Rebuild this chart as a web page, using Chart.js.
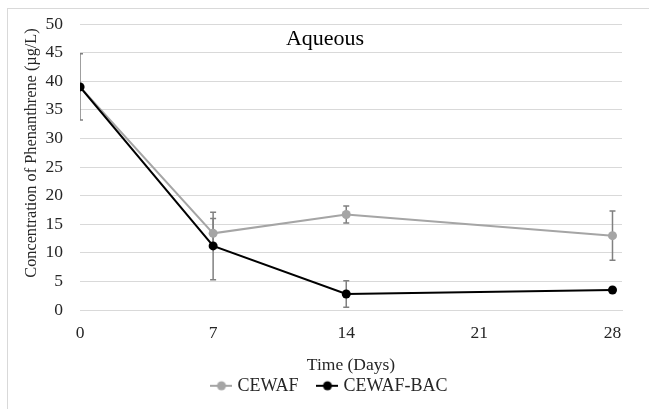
<!DOCTYPE html>
<html>
<head>
<meta charset="utf-8">
<script src="https://cdn.jsdelivr.net/npm/chart.js@4/dist/chart.umd.min.js"></script>
<style>
    html, body { margin: 0; padding: 0; background: #fff; }
    #wrap { position: relative; width: 649px; height: 409px; }
    #frame { position: absolute; left: 7px; top: 8px; right: -10px; bottom: -10px; border-left: 1px solid #d9d9d9; border-top: 1px solid #d9d9d9; }
    canvas { position: absolute; left: 0; top: 0; }
</style>
</head>
<body>
<div id="wrap">
    <div id="frame"></div>
    <canvas id="chart" width="649" height="409"></canvas>
</div>
<script>
// Sampling days and measured concentrations (µg/L)
const days = [0, 7, 14, 28];
const xTicks = [0, 7, 14, 21, 28];
const cewaf = [39.0, 13.4, 16.7, 13.0];
const cewafErr = [5.8, 2.6, 1.5, 4.3];
const cewafBac = [39.0, 11.2, 2.8, 3.5];
const cewafBacErr = [0, 5.9, 2.3, 0];

const FONT = "'Liberation Serif', 'Times New Roman', serif";
const TEXT = '#262626';

// Legend marker: short line with a dot in the middle
function legendMarker(color) {
    const c = document.createElement('canvas');
    c.width = 22;
    c.height = 12;
    const ctx = c.getContext('2d');
    ctx.strokeStyle = color;
    ctx.lineWidth = 2;
    ctx.beginPath();
    ctx.moveTo(0, 6);
    ctx.lineTo(22, 6);
    ctx.stroke();
    ctx.fillStyle = color;
    ctx.beginPath();
    ctx.arc(11, 6, 4.5, 0, Math.PI * 2);
    ctx.fill();
    return c;
}

// Vertical error bars with caps, drawn under the series
const errorBars = {
    id: 'errorBars',
    beforeDatasetsDraw(chart) {
        const { ctx, chartArea, scales: { x, y } } = chart;
        ctx.save();
        ctx.beginPath();
        ctx.rect(chartArea.left, chartArea.top, chartArea.right - chartArea.left, chartArea.bottom - chartArea.top);
        ctx.clip();
        ctx.strokeStyle = '#808080';
        ctx.lineWidth = 1.5;
        chart.data.datasets.forEach(ds => {
            ds.data.forEach((pt, i) => {
                const err = ds.errors[i];
                if (!err) return;
                const px = x.getPixelForValue(pt.x);
                const top = y.getPixelForValue(pt.y + err);
                const bot = y.getPixelForValue(pt.y - err);
                ctx.beginPath();
                ctx.moveTo(px, top);
                ctx.lineTo(px, bot);
                ctx.moveTo(px - 3, top);
                ctx.lineTo(px + 3, top);
                ctx.moveTo(px - 3, bot);
                ctx.lineTo(px + 3, bot);
                ctx.stroke();
            });
        });
        ctx.restore();
    }
};

// Chart title inside the plot area, and the rotated y-axis title
const labels = {
    id: 'labels',
    afterDraw(chart) {
        const { ctx } = chart;
        ctx.save();
        ctx.fillStyle = '#000';
        ctx.textAlign = 'center';
        ctx.textBaseline = 'middle';
        ctx.font = '22px ' + FONT;
        ctx.fillText('Aqueous', 325, 39.5);

        ctx.fillStyle = TEXT;
        ctx.font = '16.3px ' + FONT;
        ctx.translate(32, 153);
        ctx.rotate(-Math.PI / 2);
        ctx.fillText('Concentration of Phenanthrene (µg/L)', 0, 0);
        ctx.restore();
    }
};

const toPoints = (vals) => vals.map((v, i) => ({ x: days[i], y: v }));

new Chart(document.getElementById('chart'), {
    type: 'line',
    data: {
        datasets: [
            {
                label: 'CEWAF',
                data: toPoints(cewaf),
                errors: cewafErr,
                borderColor: '#a5a5a5',
                backgroundColor: '#a5a5a5',
                borderWidth: 2,
                pointRadius: 4.5,
                pointBorderWidth: 0,
                order: 1
            },
            {
                label: 'CEWAF-BAC',
                data: toPoints(cewafBac),
                errors: cewafBacErr,
                borderColor: '#000000',
                backgroundColor: '#000000',
                borderWidth: 2,
                pointRadius: 4.5,
                pointBorderWidth: 0,
                order: 0
            }
        ]
    },
    options: {
        responsive: false,
        animation: false,
        layout: { padding: { left: 20, right: 7, top: 24, bottom: 4.2 } },
        plugins: {
            tooltip: { enabled: false },
            legend: {
                position: 'bottom',
                labels: {
                    font: { family: FONT, size: 18 },
                    color: TEXT,
                    usePointStyle: true,
                    pointStyleWidth: 14,
                    padding: 22,
                    sort: (a, b) => a.datasetIndex - b.datasetIndex,
                    generateLabels(chart) {
                        return chart.data.datasets.map((ds, i) => ({
                            text: ds.label,
                            fillStyle: ds.borderColor,
                            strokeStyle: ds.borderColor,
                            lineWidth: 0,
                            pointStyle: legendMarker(ds.borderColor),
                            fontColor: TEXT,
                            hidden: false,
                            datasetIndex: i
                        }));
                    }
                }
            }
        },
        scales: {
            x: {
                type: 'linear',
                min: 0,
                max: 28.5,
                afterBuildTicks(scale) {
                    scale.ticks = xTicks.map(v => ({ value: v }));
                },
                grid: { display: false, drawTicks: false },
                border: { display: true, color: '#d9d9d9', width: 1 },
                ticks: {
                    font: { family: FONT, size: 17.5 },
                    color: TEXT,
                    padding: 12.5,
                    maxRotation: 0
                },
                title: {
                    display: true,
                    text: 'Time (Days)',
                    font: { family: FONT, size: 17.5 },
                    color: TEXT,
                    padding: { top: 0, bottom: -20.7 }
                },
                afterFit(scale) {
                    scale.height = 44.8;
                }
            },
            y: {
                min: 0,
                max: 50,
                ticks: {
                    stepSize: 5,
                    font: { family: FONT, size: 17.5 },
                    color: TEXT,
                    padding: 17
                },
                grid: { color: '#d9d9d9', drawTicks: false },
                border: { display: false },
                afterFit(scale) {
                    scale.width = 60;
                    // let the layout padding alone decide the plot top
                    scale.paddingTop = 0;
                    scale.paddingBottom = 0;
                }
            },
            // empty spacer on the right so the plot stops short of the frame
            spacer: {
                type: 'linear',
                position: 'right',
                display: true,
                ticks: { display: false },
                grid: { display: false, drawTicks: false },
                border: { display: false },
                afterFit(scale) {
                    scale.width = 20;
                    scale.paddingTop = 0;
                    scale.paddingBottom = 0;
                }
            }
        }
    },
    plugins: [errorBars, labels]
});
</script>
</body>
</html>
